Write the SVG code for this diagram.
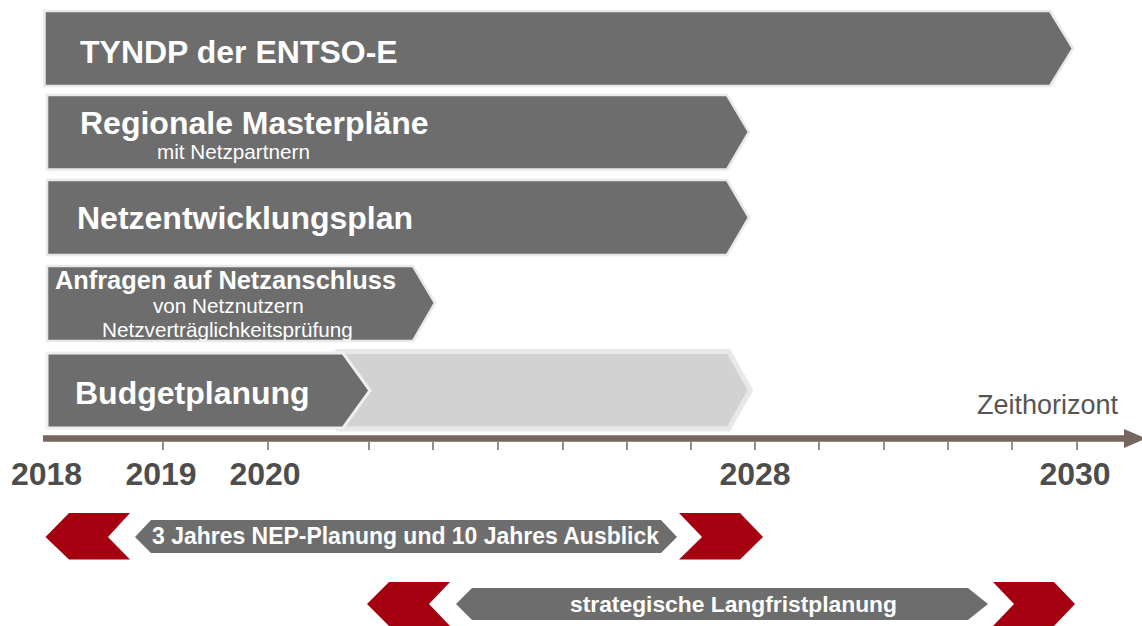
<svg xmlns="http://www.w3.org/2000/svg" width="1142" height="626" viewBox="0 0 1142 626">
<style>
.bar{fill:#6d6d6d;stroke:#e9e9e9;stroke-width:2.5;stroke-linejoin:miter}
.light{fill:#d2d2d2;stroke:#e8e8e8;stroke-width:5}
.red{fill:#a5000f}
.ban{fill:#6d6d6d}
.t{font-family:"Liberation Sans",Arial,sans-serif;fill:#ffffff}
.b{font-weight:bold}
.big{font-size:32px;font-weight:bold}
.sub{font-size:20.7px}
.yr{font-family:"Liberation Sans",Arial,sans-serif;font-size:32px;font-weight:bold;fill:#4d4d4d;text-anchor:middle}
.tick{stroke:#7a6a62;stroke-width:1.5}
</style>
<rect width="1142" height="626" fill="#ffffff"/>
<g id="tyndp">
<polygon class="bar" points="44.5,11 1050,11 1073,48.5 1050,86 44.5,86"/>
<text class="t big" x="80" y="63">TYNDP der ENTSO-E</text>
</g>
<g id="regionale">
<polygon class="bar" points="47,95 727,95 749,132 727,169.5 47,169.5"/>
<text class="t big" x="80" y="134">Regionale Masterpläne</text>
<text class="t sub" x="157" y="159">mit Netzpartnern</text>
</g>
<g id="nep">
<polygon class="bar" points="47,180 727,180 749,217.5 727,255 47,255"/>
<text class="t big" x="77" y="229">Netzentwicklungsplan</text>
</g>
<g id="anfragen">
<polygon class="bar" points="47,266 413,266 435,303 413,341 47,341"/>
<text class="t b" x="55" y="289" font-size="25" textLength="341" lengthAdjust="spacingAndGlyphs">Anfragen auf Netzanschluss</text>
<text class="t sub" x="153" y="313">von Netznutzern</text>
<text class="t sub" x="102" y="337">Netzverträglichkeitsprüfung</text>
</g>
<g id="budget-rest">
<polygon class="light" points="338,351.5 728.5,351.5 750.5,390 728.5,429 338,429"/>
</g>
<g id="budget">
<polygon class="bar" points="47,353 343,353 370,390.5 343,428 47,428" style="stroke:#efefef;stroke-width:3"/>
<text class="t big" x="75" y="404">Budgetplanung</text>
</g>
<g id="axis">
<line x1="43" y1="438.5" x2="1126" y2="438.5" stroke="#76665d" stroke-width="6.5"/>
<polygon points="1124,429 1146,438.5 1124,448" fill="#76665d"/>
<g class="tick">
<line x1="163" y1="442" x2="163" y2="450"/>
<line x1="268" y1="442" x2="268" y2="450"/>
<line x1="369" y1="442" x2="369" y2="450"/>
<line x1="433" y1="442" x2="433" y2="450"/>
<line x1="498" y1="442" x2="498" y2="450"/>
<line x1="563" y1="442" x2="563" y2="450"/>
<line x1="627" y1="442" x2="627" y2="450"/>
<line x1="691" y1="442" x2="691" y2="450"/>
<line x1="755" y1="442" x2="755" y2="450"/>
<line x1="819" y1="442" x2="819" y2="450"/>
<line x1="884" y1="442" x2="884" y2="450"/>
<line x1="948" y1="442" x2="948" y2="450"/>
<line x1="1012" y1="442" x2="1012" y2="450"/>
<line x1="1077" y1="442" x2="1077" y2="450"/>
</g>
<text x="977" y="414" font-family="Liberation Sans,Arial,sans-serif" font-size="27" fill="#555555">Zeithorizont</text>
<text class="yr" x="46.5" y="485">2018</text>
<text class="yr" x="161" y="485">2019</text>
<text class="yr" x="265" y="485">2020</text>
<text class="yr" x="755" y="485">2028</text>
<text class="yr" x="1075" y="485">2030</text>
</g>
<g id="nep-horizon">
<polygon class="red" points="45.5,537 69,513 130,513 108,537 130,559.5 69,559.5"/>
<polygon class="ban" points="135,537 151,520 661,520 677,537 661,553 151,553"/>
<polygon class="red" points="679,513 740,513 763,537 740,559.5 679,559.5 702,537"/>
<text class="t b" x="152" y="544" font-size="23" textLength="507" lengthAdjust="spacingAndGlyphs">3 Jahres NEP-Planung und 10 Jahres Ausblick</text>
</g>
<g id="strategic-horizon">
<polygon class="red" points="367,604 389,582 450,582 429,604 450,626 389,626"/>
<polygon class="ban" points="456,604 472,588 968,588 988,604 968,620 472,620"/>
<polygon class="red" points="993,582 1054,582 1075,604 1054,626 993,626 1014,604"/>
<text class="t b" x="570" y="612" font-size="22.8" textLength="327" lengthAdjust="spacingAndGlyphs">strategische Langfristplanung</text>
</g>
</svg>
